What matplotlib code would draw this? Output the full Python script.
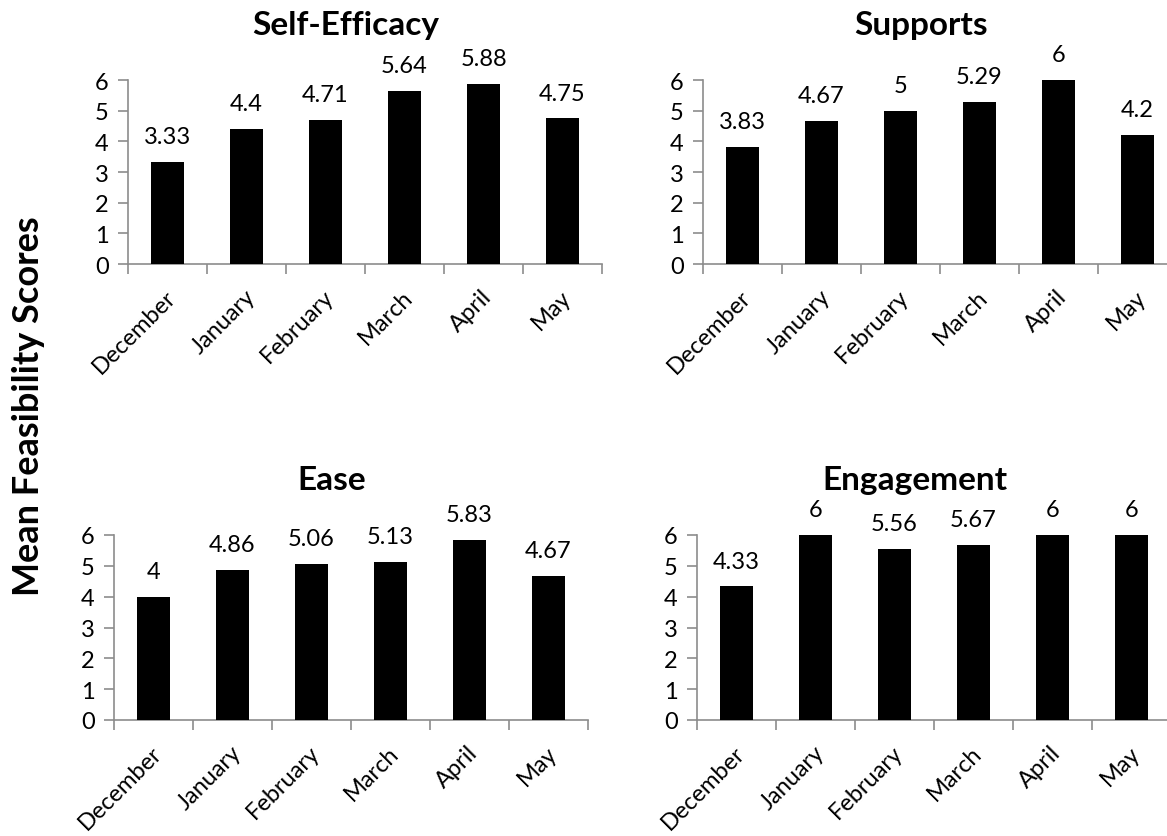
import matplotlib
matplotlib.use("Agg")
import matplotlib.pyplot as plt
from matplotlib.transforms import ScaledTranslation

months = ["December", "January", "February", "March", "April", "May"]
titles = ["Self-Efficacy", "Supports", "Ease", "Engagement"]
self_efficacy = [3.33, 4.4, 4.71, 5.64, 5.88, 4.75]
supports = [3.83, 4.67, 5, 5.29, 6, 4.2]
ease = [4, 4.86, 5.06, 5.13, 5.83, 4.67]
engagement = [4.33, 6, 5.56, 5.67, 6, 6]
series = [self_efficacy, supports, ease, engagement]
y_ticks = [0, 1, 2, 3, 4, 5, 6]
y_label = "Mean Feasibility Scores"

W, H = 1167, 837
plt.rcParams['font.family'] = ['Lato', 'DejaVu Sans']
fig = plt.figure(figsize=(W / 100, H / 100), dpi=100)

# (left px, right px, top px, bottom px)
rects = [(128, 602, 81, 265), (703, 1177, 81, 265),
         (114, 588, 536, 721), (697, 1171, 536, 721)]
title_base = [35, 35, 490, 490]
grey = "#8c8c8c"
fs = 17


def fmt(v):
    s = f"{v:.2f}".rstrip("0").rstrip(".")
    return s


for i in range(4):
    x0, x1, yt, yb = rects[i]
    ax = fig.add_axes([x0 / W, 1 - yb / H, (x1 - x0) / W, (yb - yt) / H])
    xs = list(range(len(months)))
    bars = ax.bar(xs, series[i], width=0.41, color="black", zorder=3)
    ax.set_xlim(-0.5, len(months) - 0.5)
    ax.set_ylim(0, 6)
    ax.set_yticks(y_ticks)
    ax.set_yticklabels([str(t) for t in y_ticks])
    ax.set_xticks([k - 0.5 for k in range(len(months) + 1)])
    ax.set_xticklabels([])
    ax.set_xticks(xs, minor=True)
    ax.set_xticklabels(months, minor=True, rotation=45, ha="right",
                       va="center", rotation_mode="anchor")
    ax.tick_params(axis="x", which="minor", length=0, pad=21, labelsize=fs)
    ax.tick_params(axis="x", which="major", length=7, width=1.2, color=grey,
                   direction="out")
    ax.tick_params(axis="y", length=7, width=1.2, color=grey, direction="out",
                   labelsize=fs, pad=7)
    shift = ScaledTranslation(5 / 100, 0, fig.dpi_scale_trans)
    for lab in ax.get_xticklabels(minor=True):
        lab.set_transform(lab.get_transform() + shift)
    for s in ["top", "right"]:
        ax.spines[s].set_visible(False)
    for s in ["left", "bottom"]:
        ax.spines[s].set_color(grey)
        ax.spines[s].set_linewidth(1.2)
    for b, v in zip(bars, series[i]):
        ax.annotate(fmt(v), (b.get_x() + b.get_width() / 2, v),
                    xytext=(0, 13.5), textcoords="offset points",
                    ha="center", va="baseline", fontsize=fs)
    cx = (x0 + x1) / 2 - 19
    fig.text(cx / W, 1 - title_base[i] / H, titles[i], ha="center",
             va="baseline", fontsize=24, fontweight="bold")

fig.text(29 / W, 1 - 406 / H, y_label, rotation=90, ha="center", va="center",
         fontsize=26, fontweight="bold")

fig.savefig("out.png", dpi=100)
